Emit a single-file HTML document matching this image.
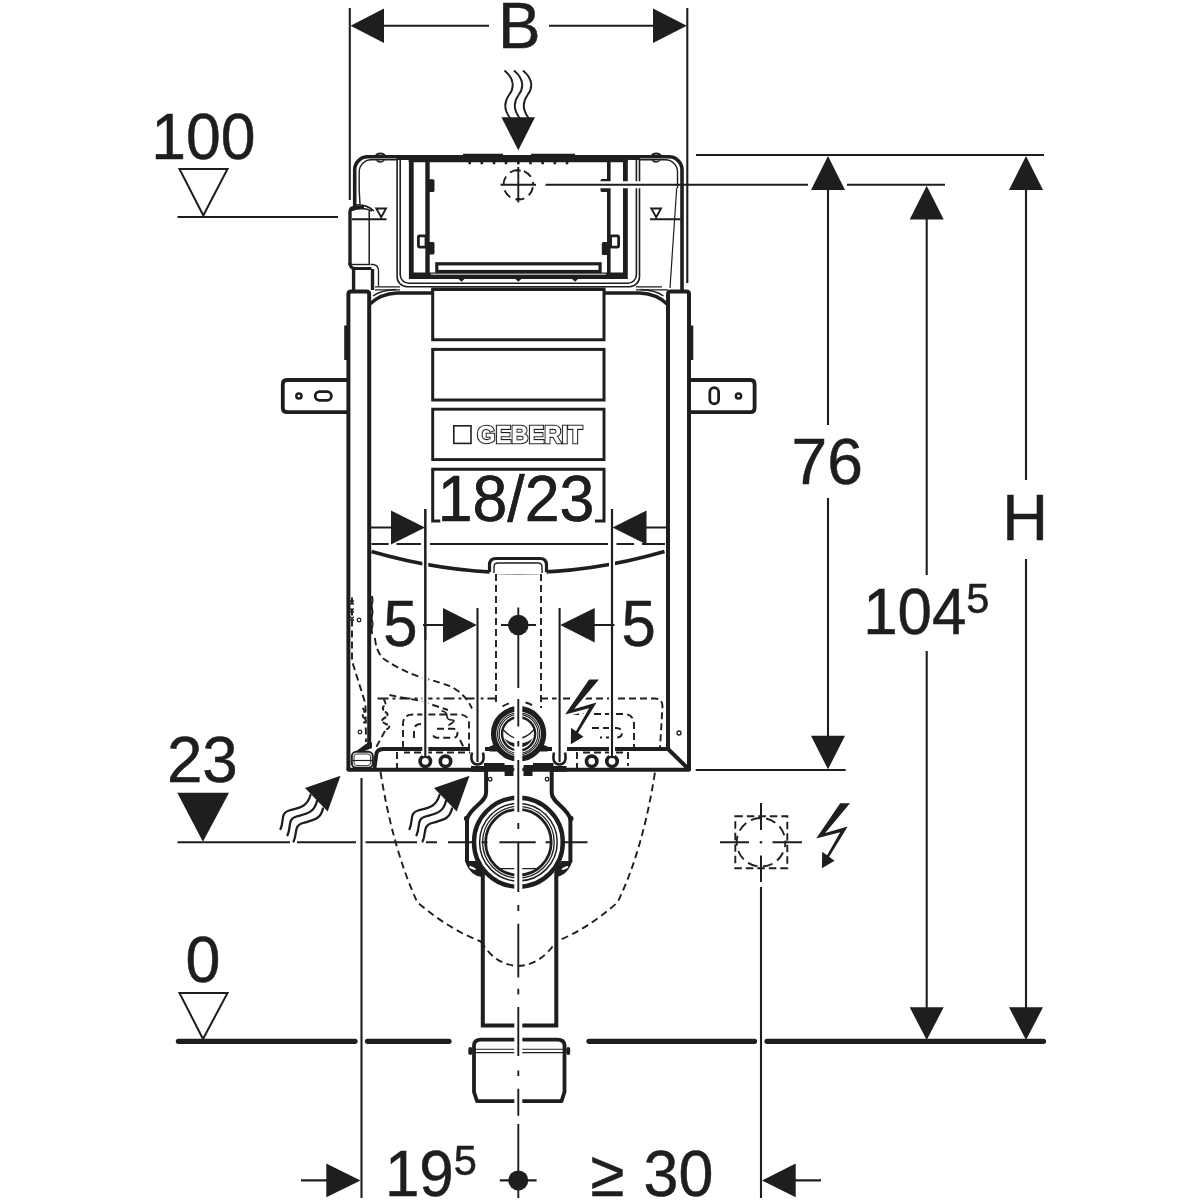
<!DOCTYPE html>
<html><head><meta charset="utf-8">
<style>
html,body{margin:0;padding:0;background:#fff;}
body{width:1200px;height:1200px;overflow:hidden;}
svg{display:block;filter:grayscale(1);}
text{font-family:"Liberation Sans",sans-serif;fill:#1e1e1d;stroke:#1e1e1d;stroke-width:0.5;}
.k{stroke:#1e1e1d;fill:none;}
.f{fill:#1e1e1d;stroke:none;}
.w{stroke:#fff;fill:none;}
</style></head><body>
<svg width="1200" height="1200" viewBox="0 0 1200 1200">
<rect width="1200" height="1200" fill="#fff"/>


<!-- ===== CISTERN TOP SECTION ===== -->
<g id="top">
<!-- outer shell -->
<path class="k" stroke-width="3.6" stroke-linejoin="round" d="M354.7,206V170A13,13 0 0 1 367.7,156.8H669A13,13 0 0 1 682,170V290"/>
<!-- thick top band over service box -->
<path class="k" stroke-width="7.2" d="M408.7,158.6H627.8"/>
<path class="k" stroke-width="4.8" d="M396.5,157.5H409M627.5,157.5H640.2"/>
<path class="k" stroke-width="1.5" d="M463,154.6H503M531,154.6H575"/>
<!-- inner thin shell line -->
<path class="k" stroke-width="1.4" d="M360,204L359.2,190V172A12,12 0 0 1 371.2,159.800H397M640,159.800H665.5A12,12 0 0 1 677.5,172V188"/>
<path class="k" stroke-width="1.2" d="M676.7,188L670,288"/>
<!-- bumps -->
<path class="k" stroke-width="2" d="M375.800,156.500A4.600,3 0 0 1 385,156.500M651.600,156.500A4.600,3 0 0 1 660.800,156.500"/>
<path class="k" stroke-width="1.400" d="M377,159.500A3.500,2.500 0 0 0 384,159.500M652.700,159.500A3.500,2.500 0 0 0 659.700,159.500"/>
<!-- thin double lines -->
<path class="k" stroke-width="1.6" d="M397.1,160V276.7A10,10 0 0 0 407.1,286.700H629.500A10,10 0 0 0 639.500,276.700V160"/>
<path class="k" stroke-width="1.6" d="M400.2,160V274.700A8.500,8.500 0 0 0 408.700,283.200H627.900A8.500,8.500 0 0 0 636.400,274.700V160"/>
<!-- thick service frame -->
<path class="k" stroke-width="4.8" stroke-linejoin="miter" d="M411.300,160V276.500H625.400V160"/>
<path class="k" stroke-width="4.400" d="M427.500,161V274"/><path class="k" stroke-width="3.600" d="M608.800,161V274"/>
<path class="k" stroke-width="5" d="M411,275H625"/>
<!-- bottom bar -->
<rect class="k" stroke-width="3.2" x="436.800" y="263.800" width="163.300" height="7.700"/>
<path class="w" stroke-width="0.900" d="M431,274.200H606"/>
<path class="f" d="M458,278.500h7l-3.500,3.200z M514.800,278.500h7l-3.500,3.200z M571.600,278.500h7l-3.500,3.200z"/>
<!-- tabs on inner frame -->
<path class="f" d="M429,179.200h4q1.500,0 1.500,1.500v9.800q0,1.500 -1.500,1.500h-4z M429,242.100h4q1.500,0 1.500,1.500v9.300q0,1.500 -1.500,1.500h-4z"/>
<path class="f" d="M607.500,179h-5.500q-1.500,0 -1.500,1.500v1.500h7z M607.500,188h-7v2.500q0,1.500 1.500,1.500h5.500z M607.500,242h-4.200q-1.500,0 -1.500,1.500v10q0,1.500 1.500,1.500h4.200z"/>
<rect class="k" stroke-width="2.800" x="418.400" y="235.900" width="7.600" height="11.200" rx="1"/>
<rect class="k" stroke-width="2.800" x="610.600" y="235.900" width="8" height="11.200" rx="1"/>
<!-- teeth -->
<path class="k" stroke-width="2.600" d="M469.700,161v3.300M481.800,161v3.300M494,161v3.300M506,161v3.300M518.300,161v3.300M530.500,161v3.300M542.600,161v3.300M554.800,161v3.300M567,161v3.300"/>
<!-- crosshair -->
<circle class="k" stroke-width="1.900" stroke-dasharray="9 5.5" stroke-dashoffset="-2.5" cx="518.300" cy="184.800" r="14.800"/>
<path class="k" stroke-width="1.900" d="M500.500,184.800H536M518.300,167V202.500M516,170.500h4.600M516,199h4.600"/>
<!-- water level marks -->
<path class="k" stroke-width="1.900" d="M352,219.300H386.500M376.300,208.500H386L381.200,217.200Z"/>
<path class="k" stroke-width="1.900" d="M650,219.300H680.500M651.300,208.500H661L656.200,217.200Z"/>
<!-- fill valve -->
<path class="k" stroke-width="3.4" stroke-linejoin="round" d="M350,265V212Q350,207.500 355,207.500H364"/>
<path class="k" stroke-width="1.500" d="M352,210.500Q361,206.500 372,211M356,205Q366,204 374,211M369.200,211V265"/>
<path class="k" stroke-width="3.2" d="M350,263Q350,268.500 355,268.500H371.500"/>
<path class="k" stroke-width="1.4" d="M352,264.500H370"/>
<path class="k" stroke-width="3.4" d="M353.600,269V290M372.500,269V290"/>
<path class="k" stroke-width="1.3" d="M370.500,264.500H373Q378.500,265 378.500,271V286"/>
<!-- base lines of top section -->
<path class="k" stroke-width="1.300" d="M375,286.800H400M636,286.800H662M375,289.800H400M636,289.800H668"/>
</g>


<!-- ===== MAIN BODY ===== -->
<g id="body">
<!-- brackets -->
<path class="k" stroke-width="3.800" stroke-linejoin="round" d="M348,380H287Q282.800,380 282.800,384.200V408Q282.800,412.200 287,412.200H348"/>
<circle class="k" stroke-width="2.500" cx="298.900" cy="396" r="2.600"/>
<rect class="k" stroke-width="2.800" x="315.200" y="391.600" width="16.200" height="8.700" rx="4.350"/>
<path class="k" stroke-width="3.800" stroke-linejoin="round" d="M689,380H750.400Q754.600,380 754.600,384.200V408Q754.600,412.200 750.400,412.200H689"/>
<circle class="k" stroke-width="2.500" cx="738.500" cy="396" r="2.600"/>
<rect class="k" stroke-width="2.800" x="709.800" y="387.700" width="8.800" height="16.200" rx="4.400"/>
<!-- small side plates -->
<path class="f" d="M344.200,325.600H347V360H344.200Z M690.500,325.600H693.300V360H690.500Z"/>
<!-- rails -->
<path class="k" stroke-width="4" stroke-linejoin="round" d="M348.400,770V294Q348.400,291.500 351,291.500H366.500Q369.200,291.500 369.200,294V748"/>
<path class="k" stroke-width="4" stroke-linejoin="round" d="M689,770V294Q689,291.500 686.500,291.500H670.500Q668,291.500 668,294V748"/>
<!-- shoulders -->
<path class="k" stroke-width="3.400" d="M370,304Q380,294 397,293H432"/>
<path class="k" stroke-width="3.400" d="M667,304Q657,294 640,293H604.500"/>
<path class="k" stroke-width="1.300" d="M373,296Q380,290.500 396,289.500M663.500,296Q656.500,290.500 640.500,289.500"/>
<!-- panels -->
<path class="k" stroke-width="3.400" d="M431.200,289.200H605.400"/>
<path class="k" stroke-width="3" stroke-linejoin="miter" d="M432.700,289V339.800H604V289"/>
<rect class="k" stroke-width="3" x="432.700" y="349.400" width="171.300" height="50.600"/>
<rect class="k" stroke-width="2.900" x="432.700" y="409.200" width="171.300" height="50.400"/>
<path class="k" stroke-width="3" stroke-linejoin="miter" d="M443.500,521H432.700V469.200H604V521H595"/>
<!-- logo -->
<rect class="k" stroke-width="1.600" x="453.800" y="425.800" width="17.200" height="17.600"/>
<text x="477" y="442.500" font-size="23.500" font-weight="bold" textLength="105.500" lengthAdjust="spacingAndGlyphs" style="fill:#1e1e1d;stroke:#1e1e1d;stroke-width:2.400;stroke-linejoin:miter">GEBERIT</text>
<text x="477" y="442.500" font-size="23.500" font-weight="bold" textLength="105.500" lengthAdjust="spacingAndGlyphs" style="fill:#fff;stroke:#fff;stroke-width:0.300">GEBERIT</text>
<!-- arc -->
<path class="k" stroke-width="3.400" d="M371.500,551.500Q518,594 664.500,551.500"/>
<!-- dashed line -->
<path class="k" stroke-width="1.900" d="M371.500,544H388.600M396.500,544H421M430,544H608M616.500,544H634M642,544H665"/>
<!-- tab -->
<path d="M489.500,574V565Q489.500,558.500 496,558.500H540Q546.500,558.500 546.500,565V574Z" fill="#fff" stroke="none"/>
<path class="k" stroke-width="3.200" d="M489.500,572V565Q489.500,558.500 496,558.500H540Q546.500,558.500 546.500,565V572"/>
<path class="k" stroke-width="1.400" d="M494,573V567Q494,563 498,563H538Q542,563 542,567V573"/>
<!-- 18/23 dim -->
<path class="w" stroke-width="6" d="M425.300,540V757M612,540V757"/>
<path class="k" stroke-width="2.100" d="M425.300,509V757M612,509V757M370.500,527.500H392M645,527.500H666.500"/>
<path class="f" d="M425,527.500L391,510.500V544.500Z M612.500,527.500L646.500,510.500V544.500Z"/>
<text x="437.7" y="520.9" font-size="64.7" textLength="156.7" lengthAdjust="spacingAndGlyphs" style="stroke:#fff;stroke-width:4.5;paint-order:stroke">18/23</text>
<text x="437.7" y="520.9" font-size="64.7" textLength="156.7" lengthAdjust="spacingAndGlyphs">18/23</text>
</g>


<!-- ===== LOWER BODY ===== -->
<g id="lower">
<!-- dashed internals -->
<g class="k" stroke-width="1.900" stroke-dasharray="7 4">
<path d="M496,574V706M541,574V708"/>
<path d="M377.500,698.500H496" stroke-dasharray="11 4 3 4"/>
<path d="M541,698.500H655Q662,698.500 662.500,706L660,748"/>
<path d="M572,714H624Q633.500,714 634,724V750"/>
<path d="M352,597.500V661L365.500,704L366,742"/>
<path d="M375,638Q376,652 384,659Q400,670 421.700,677.700Q440,682 452,687Q466,695 472,708.500"/>
<path d="M389.500,695L421,701L448,710"/>
<path d="M385,731L376,747.500M460,740L464.500,749"/>
<path d="M403,748V724Q403,714.500 413,714.500H459Q469,714.500 469,724V748"/>
<path d="M421,724Q414,724 414,731V740"/>
<path d="M437,728.700H453Q457.500,728.700 457.500,733.200Q457.500,737.700 453,737.700H437Q433,737.700 433,733.200"/>
<path d="M592,728H616Q622,728 622,733Q622,737.500 616,737.500H600"/>
<path d="M397,752V768M476,752.500H404M577,752V768M628,752V766M583,752.500H626"/>
</g>
<g class="k" stroke-width="2" stroke-linecap="round">
<path d="M372,597q1,3 0,6t0,6t0,6t0,6t0,6t0,6" stroke-width="2.200"/>
<path d="M350.500,601l3,3m0,-3l-3,3M350.500,609l3,3m0,-3l-3,3M350.500,617l3,3m0,-3l-3,3" stroke-width="1.300"/>
<path d="M384,700q3,3 0,6t1.500,6t-1,6t1.500,6t-1,6" stroke-dasharray="4 3"/>
<path d="M363,708.500q2.500,2.500 0.500,5t1,5t-0.500,4" stroke-dasharray="4 3"/>
<path d="M442,711q5,1 5,5t5,4t-3,5" stroke-width="1.600"/>
</g>
<circle class="k" stroke-width="1.300" cx="359" cy="620" r="1.800"/>
<circle class="k" stroke-width="1.300" cx="679" cy="733" r="2"/>
<circle class="k" stroke-width="1.300" cx="360" cy="732" r="1.800"/>
<!-- tray -->
<path class="k" stroke-width="3.900" stroke-linejoin="round" d="M667,749H384Q378,749 376.500,753L374.500,768"/>
<path class="k" stroke-width="4" d="M666,747L689,769.500"/>
<path class="f" d="M368,742.500H372V748L362,752H355Z"/>
<!-- bottom corner box -->
<rect x="351.800" y="751.800" width="21" height="16" rx="4.500" fill="#fff" class="k" stroke-width="2"/>
<rect x="354" y="754" width="16.600" height="11.600" rx="2.800" class="k" stroke-width="0.900"/>
<path class="k" stroke-width="1.200" d="M352.500,760.500H372.500"/>
<!-- bottom line -->
<path class="k" stroke-width="3.900" stroke-linecap="round" stroke-linejoin="round" d="M348.400,769.800H689"/>
<!-- circles -->
<g fill="#fff" class="k" stroke-width="3.600">
<circle cx="425.300" cy="761.300" r="5.200"/><circle cx="445.500" cy="761.300" r="5.200"/>
<circle cx="591.700" cy="761.300" r="5.200"/><circle cx="612" cy="761.300" r="5.200"/>
</g>
<!-- U shapes -->
<path d="M470,745.500H485V762H470Z M552,745.500H567V762H552Z" fill="#fff"/>
<path class="k" stroke-width="2.600" d="M472,752.500Q469.500,764 477.500,764.500Q485.500,764 483,752.500M554,752.500Q551.500,764 559.500,764.500Q567.500,764 565,752.500"/>
<!-- small ring -->
<path class="k" stroke-width="1.900" stroke-dasharray="7 4" d="M502.500,706.500A32,32 0 0 1 511.500,702.500M525.500,702.500A32,32 0 0 1 535,706.800"/>
<circle cx="518.600" cy="733.800" r="28" fill="#fff"/>
<circle class="k" stroke-width="5.400" cx="518.600" cy="733.800" r="25"/>
<path class="f" d="M489.500,751.500V746.500L496,744L500,751.500Z M547.700,751.500V746.500L541.200,744L537.200,751.500Z"/>
<circle class="k" stroke-width="1.100" cx="518.600" cy="733.800" r="21.100"/>
<circle class="k" stroke-width="1.100" cx="518.600" cy="733.800" r="19.400"/>
<circle class="k" stroke-width="2.400" cx="518.600" cy="733.800" r="16.600"/>
<path class="f" d="M504.300,738A15.500,15.500 0 0 0 532.900,738A17,12 0 0 1 504.300,738Z"/>
<path class="k" stroke-width="1.300" d="M503,729.500Q518.600,747 534.200,729.500"/>
<!-- bolt -->
<path d="M589.1,679.4L598.9,679.4L574.1,709.0L596.6,702.6L577.3,734.1L575.0,733.0L589.1,708.3L565.1,714.6Z M571.1,727.8L583.5,736.8L570.8,744.3Z" fill="#fff" stroke="#fff" stroke-width="4.5" stroke-linejoin="round"/>
<path class="f" d="M589.1,679.4L598.9,679.4L574.1,709.0L596.6,702.6L577.3,734.1L575.0,733.0L589.1,708.3L565.1,714.6Z M571.1,727.8L583.5,736.8L570.8,744.3Z"/>
<!-- 5 dims -->
<path class="w" stroke-width="6" d="M477.500,640V762M559.600,640V762M425.300,640V756M612,640V756"/>
<path class="k" stroke-width="2.100" d="M425.300,509V757M612,509V757"/>
<path class="k" stroke-width="2.100" d="M477.500,608V762M559.600,608V762M423,625H444M594,625H614.500"/>
<path class="f" d="M476.800,625L443,608V642.500Z M560.200,625L594.700,608V642.500Z"/>
<text x="383.3" y="645.7" font-size="64.7" textLength="34.3" lengthAdjust="spacingAndGlyphs">5</text>
<text x="621.5" y="645.7" font-size="64.7" textLength="34.3" lengthAdjust="spacingAndGlyphs">5</text>
<!-- center dot -->
<circle class="f" cx="518.300" cy="625" r="10.300"/>
<path class="k" stroke-width="2.100" d="M501,625H536"/>
</g>


<!-- ===== UNDER CISTERN ===== -->
<g id="under">
<!-- bowl dashed -->
<path class="k" stroke-width="1.900" stroke-dasharray="7 4.500" d="M380.500,772Q393,850 417.500,902.500Q450,930 481,941.500Q495,965 518,966Q541,965 556,941.500Q586,930 617.500,902.500Q643,850 655,772"/>
<!-- pipe fill -->
<path d="M482.800,870H556.300V1026H482.800Z" fill="#fff"/>
<path class="k" stroke-width="1.900" stroke-dasharray="7 4.500" d="M481,941.500Q495,965 518,966Q541,965 556,941.500"/>
<!-- neck -->
<path d="M486.100,771V793C486.100,802 470,808 467,819V862Q467,870 475,873L482,875H556L564,873Q570.400,870 570.400,862V819C567.500,808 551.700,802 551.700,793V771Z" fill="#fff"/>
<path class="k" stroke-width="4" stroke-linejoin="round" d="M486.100,771V793C486.100,802 470,808 467,819V862"/>
<path class="k" stroke-width="4" stroke-linejoin="round" d="M551.700,771V793C551.700,802 567.500,808 570.400,819V862"/>
<path class="f" d="M465,861H476Q479,866 482.500,868V877Q470,876 465,861Z M572.400,861H561.500Q558.500,866 555,868V877Q567.500,876 572.400,861Z"/>
<ellipse cx="472.500" cy="868" rx="3.600" ry="1.200" transform="rotate(25 472.500 868)" fill="#fff"/>
<ellipse cx="565" cy="868" rx="3.600" ry="1.200" transform="rotate(-25 565 868)" fill="#fff"/>
<circle class="f" cx="466.600" cy="818.500" r="2.700"/><circle class="f" cx="570.800" cy="818.500" r="2.700"/>
<circle class="k" stroke-width="1.300" cx="490.200" cy="779.200" r="1.800"/><circle class="k" stroke-width="1.300" cx="547.100" cy="779.200" r="1.800"/>
<!-- brackets under ring -->
<path class="f" d="M471,766H484V763H504.500V765H513.500V776H504.600V771.700H471Z M566.500,766H553.500V763H533V765H523.500V776H532.500V771.700H566.500Z"/>
<!-- big ring -->
<circle cx="518.400" cy="842.200" r="46" fill="#fff"/>
<circle class="k" stroke-width="4.400" cx="518.400" cy="842.200" r="44.400"/>
<circle class="k" stroke-width="1.500" cx="518.400" cy="842.200" r="38.800"/>
<circle class="k" stroke-width="1.300" cx="518.400" cy="842.200" r="35.800"/>
<circle class="k" stroke-width="2.800" cx="518.400" cy="842.200" r="32.800"/>
<path class="k" stroke-width="1.400" d="M499.400,868.600H537.300"/>
<!-- pipe -->
<path class="k" stroke-width="4" stroke-linejoin="miter" d="M482.800,872V1025.600H556.300V872"/>
<!-- socket -->
<path class="k" stroke-width="3.800" stroke-linejoin="round" d="M474,1048V1045Q474.500,1039.600 481,1039.600H557.500Q564,1039.600 564.500,1045V1092L561.500,1101.200H477L474,1092Z"/>
<path class="k" stroke-width="1.100" d="M474,1049.200H564.500M474,1052.600H564.500"/>
<path class="k" stroke-width="4" stroke-linecap="round" d="M470.300,1049V1053M568.200,1049V1053"/>
<!-- 23 level line -->
<path class="k" stroke-width="2.100" d="M177.500,842.200H290M297,842.200H356M365.500,842.200H417M426,842.200H437M448,842.200H476M481.500,842.200H487.500M499.400,842.200H535.700M545.500,842.200H552M560.600,842.200H587.500"/>
<!-- electric box -->
<rect class="k" stroke-width="1.900" stroke-dasharray="7.500 4" x="735.300" y="816.300" width="52" height="52"/>
<circle class="k" stroke-width="1.900" stroke-dasharray="10 5.500" stroke-dashoffset="5" cx="761" cy="842.300" r="24.300"/>
<path class="k" stroke-width="2" d="M720,842.300H749M772.500,842.300H802M761,803V830M761,855.500V882"/>
<circle class="f" cx="761" cy="842.300" r="1.300"/>
<path class="f" d="M840.2,803.3L850.0,803.3L825.2,832.9L847.7,826.5L828.4,858.0L826.1,856.9L840.2,832.2L816.2,838.5Z M822.2,851.7L834.6,860.7L821.9,868.2Z"/>
</g>

<!-- ===== HEAT ARROWS ===== -->
<g id="heat">
<g id="ha">
<path class="k" stroke-width="2.300" stroke-linecap="round" d="M280.500,829C284.500,821 280,813 289,810.500C300,807.500 307,807 310.500,795"/>
<path class="k" stroke-width="2.300" stroke-linecap="round" d="M287.500,835.300C291.500,827 287,819 296.500,816.500C307,813.500 314,813 317,801"/>
<path class="k" stroke-width="2.300" stroke-linecap="round" d="M293.600,841.400C297.500,833.500 293.500,825.500 303,823C313.500,820 320.500,819.500 323,808.500"/>
<path class="f" d="M340.500,775.700L305,788L327.700,811.600Z"/>
</g>
<g transform="translate(129,0)">
<path class="k" stroke-width="2.300" stroke-linecap="round" d="M280.500,829C284.500,821 280,813 289,810.500C300,807.500 307,807 310.500,795"/>
<path class="k" stroke-width="2.300" stroke-linecap="round" d="M287.500,835.300C291.500,827 287,819 296.500,816.500C307,813.500 314,813 317,801"/>
<path class="k" stroke-width="2.300" stroke-linecap="round" d="M293.600,841.400C297.500,833.500 293.500,825.500 303,823C313.500,820 320.500,819.500 323,808.500"/>
<path class="f" d="M340.500,775.700L305,788L327.700,811.600Z"/>
</g>
<!-- top heat arrow -->
<path class="k" stroke-width="1.900" stroke-linecap="round" d="M505,71C514.500,79 514.500,88 509,95C504,102 504,110 510,118M514.500,71C524,79 524,88 518.500,95C513.500,102 513.500,110 519.500,118M523.500,71C533,79 533,88 527.500,95C522.500,102 522.500,110 528.500,118"/>
<path class="f" d="M501.400,117.300H535L518.300,150.300Z"/>
</g>

<!-- ===== CENTRE LINE ===== -->
<g id="centre">
<path class="w" stroke-width="8" d="M518.300,700V775M518.300,792V812M518.300,868V892M518.300,1020V1031M518.300,1034V1056M518.300,1096V1107"/>
<path class="k" stroke-width="1.900" d="M518.300,607.500V688M518.300,699V726.500M518.300,741V746.500M518.300,760V812M518.300,823V829M518.300,842.500V892M518.300,905V911M518.300,923.700V977.500M518.300,988.800V994.400M518.300,1007V1056M518.300,1070.400V1076M518.300,1088.800V1115.700M518.300,1124V1198"/>
</g>

<!-- ===== LEVEL LABELS LEFT ===== -->
<g id="levels">
<text x="151.2" y="159.2" font-size="64.7" textLength="104.2" lengthAdjust="spacingAndGlyphs">100</text>
<path class="k" stroke-width="2" stroke-linejoin="miter" d="M179.500,169H227.500L203.300,215.500Z"/>
<path class="k" stroke-width="2.1" d="M177.5,217H338"/>
<text x="166.9" y="782.4" font-size="64.7" textLength="70.9" lengthAdjust="spacingAndGlyphs">23</text>
<path class="f" d="M177.3,792.7H229L202.9,841.7Z"/>
<text x="185.5" y="982" font-size="64.7" textLength="34.9" lengthAdjust="spacingAndGlyphs">0</text>
<path class="k" stroke-width="2" stroke-linejoin="miter" d="M179.500,993H227.500L203,1039Z"/>
</g>

<!-- ===== FLOOR LINE ===== -->
<g id="floor" class="k" stroke-width="5.300" stroke-linecap="round">
<path d="M178.400,1041.300H355M367.500,1041.300H449"/>
<path d="M589,1041.300H754.500M767,1041.300H1043.500"/>
</g>

<!-- ===== DIM B ===== -->
<g id="dimB">
<path class="k" stroke-width="2.1" d="M349.800,8V200M687.300,8V283M384,25.7H489M549,25.7H653"/>
<path class="f" d="M350.6,25.7L384,8.5V43Z M686.8,25.7L653,8.5V43Z"/>
<text x="498" y="47.5" font-size="64.7" textLength="42.6" lengthAdjust="spacingAndGlyphs">B</text>
</g>

<!-- ===== RIGHT DIMS ===== -->
<g id="dimR">
<path class="w" stroke-width="7" d="M598,184.700H645"/>
<path class="k" stroke-width="2.1" d="M696,155H1044M545.5,184.7H808M847,184.7H945M695.7,770H845.7"/>
<path class="k" stroke-width="2.1" d="M828,188V425M828,498V738M926.7,217V575M926.7,651V1010M1026,188V480M1026,559V1010"/>
<path class="f" d="M828,156L845,190H811Z M828,769.3L845,735.7H811Z"/>
<path class="f" d="M926.7,185.7L943.7,219.5H909.7Z M926.7,1040L943.7,1007.3H909.7Z"/>
<path class="f" d="M1026,156L1043,190H1009Z M1026,1040L1043,1007.3H1009Z"/>
<text x="791.5" y="483.7" font-size="64.7" textLength="71.4" lengthAdjust="spacingAndGlyphs">76</text>
<text x="863.2" y="633.8" font-size="64.7" textLength="103.2" lengthAdjust="spacingAndGlyphs">104</text>
<text x="966.3" y="613.1" font-size="41.6">5</text>
<text x="1002.3" y="540.2" font-size="64.7" textLength="45.8" lengthAdjust="spacingAndGlyphs">H</text>
</g>

<!-- ===== BOTTOM DIMS ===== -->
<g id="dimBot">
<path class="k" stroke-width="2.1" d="M361.5,778V1198M761,887V1198M301,1180.4H330M793,1180.4H821"/>
<path class="f" d="M360.500,1180.400L326.300,1163.600V1197.300Z M762,1180.400L795.700,1163.600V1197.300Z"/>
<text x="384.9" y="1196" font-size="64.7" textLength="68.9" lengthAdjust="spacingAndGlyphs">19</text>
<text x="453.7" y="1175.2" font-size="41.6">5</text>
<text y="1196" font-size="64.7"><tspan x="590.5" textLength="33.9" lengthAdjust="spacingAndGlyphs">≥</tspan><tspan x="643.6"> </tspan><tspan x="643.6" textLength="69.8" lengthAdjust="spacingAndGlyphs">30</tspan></text>
<circle class="f" cx="518.3" cy="1180.4" r="10"/>
<path class="k" stroke-width="2.1" d="M499.8,1180.4H536.6"/>
</g>

</svg>
</body></html>
